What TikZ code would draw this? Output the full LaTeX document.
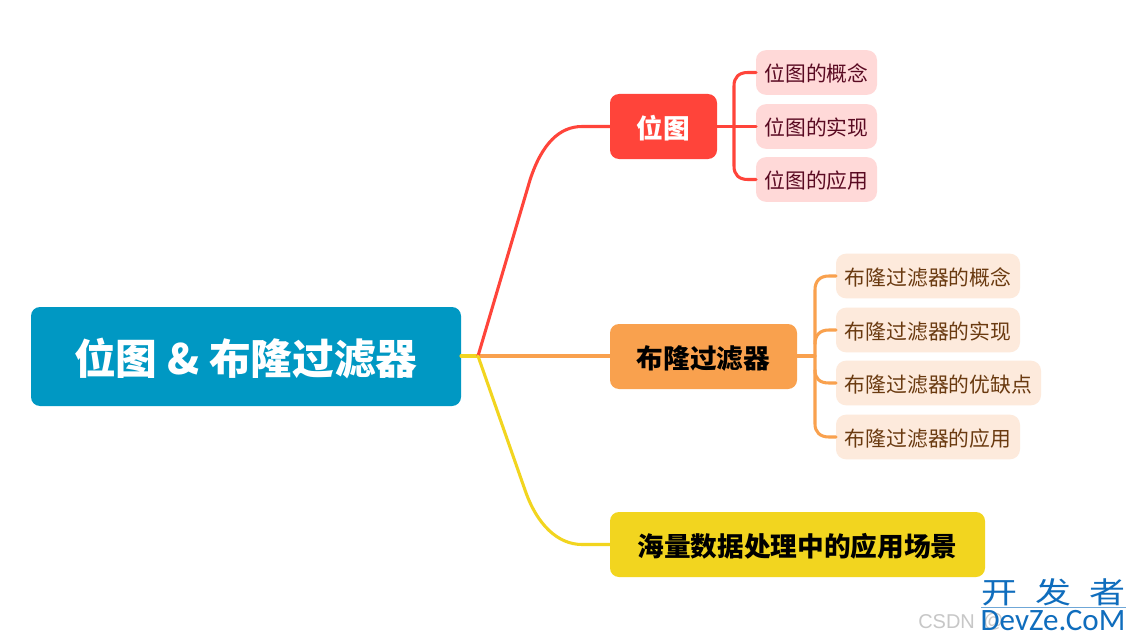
\documentclass[tikz,border=0pt]{standalone}
\usepackage{fontspec}
\setmainfont{Noto Sans CJK SC}
\newfontfamily\latinwm{Carlito}
\newfontfamily\latingr{Liberation Sans}
\definecolor{rootc}{HTML}{0098C3}
\definecolor{redc}{HTML}{FF443A}
\definecolor{orangec}{HTML}{F9A14E}
\definecolor{yellowc}{HTML}{F2D51F}
\definecolor{redleaf}{HTML}{FFD9D8}
\definecolor{orangeleaf}{HTML}{FDEADC}
\definecolor{redtext}{HTML}{5A0A22}
\definecolor{orangetext}{HTML}{6A3A10}
\definecolor{wmblue}{HTML}{0F6DBD}
\tikzset{
  x=0.75pt,y=-0.75pt,
  box/.style={rectangle,rounded corners=6.75pt,inner sep=0pt,outer sep=0pt,anchor=center},
  rootbox/.style={box,fill=rootc,text=white,font=\fontsize{31.3pt}{34pt}\selectfont\bfseries,minimum width=322.5pt,minimum height=74.25pt,text height=27pt,text depth=0pt},
  branch/.style={box,font=\fontsize{20pt}{24pt}\selectfont\bfseries,minimum height=48.75pt,text height=18.2pt,text depth=0pt},
  leafbox/.style={box,rounded corners=7.5pt,font=\fontsize{15.6pt}{18pt}\selectfont,minimum height=33.5pt,text height=14pt,text depth=0pt},
  redleafbox/.style={leafbox,fill=redleaf,text=redtext,minimum width=90.75pt},
  orangeleafbox/.style={leafbox,fill=orangeleaf,text=orangetext,minimum width=138pt},
  link/.style={line width=2.3pt,line cap=round,line join=round},
  labeltext/.style={inner sep=0pt,anchor=center},
}
\begin{document}
\begin{tikzpicture}
\useasboundingbox (0,0) rectangle (1136,642);
\fill[white] (0,0) rectangle (1136,642);
% nodes
\node[rootbox] (root) at (246,356.5) {位图 \& 布隆过滤器};
\node[branch,fill=redc,text=white,minimum width=80.25pt] (bm) at (663.5,126.5) {位图};
\node[branch,fill=orangec,text=black,minimum width=140.25pt] (bf) at (703.5,356.5) {布隆过滤器};
\node[branch,fill=yellowc,text=black,minimum width=281.25pt] (app) at (797.5,544.5) {海量数据处理中的应用场景};
\node[redleafbox] (r1) at (816.5,72.5) {位图的概念};
\node[redleafbox] (r2) at (816.5,126.5) {位图的实现};
\node[redleafbox] (r3) at (816.5,179.5) {位图的应用};
\node[orangeleafbox] (o1) at (928,276) {布隆过滤器的概念};
\node[orangeleafbox] (o2) at (928,330) {布隆过滤器的实现};
\node[orangeleafbox,minimum width=153.75pt] (o3) at (938.5,383) {布隆过滤器的优缺点};
\node[orangeleafbox] (o4) at (928,437) {布隆过滤器的应用};
% junction coordinates
\coordinate (hub) at (478,356);
\coordinate (ot) at (815,356);
% root connectors
\draw[link,yellowc] (root.east|-hub) -- (hub);
\draw[link,orangec] (hub) -- (bf.west|-hub);
\draw[link,redc] (hub) -- (530,180) .. controls (542,143) and (560,126.5) .. (582,126.5) -- (bm.west);
\draw[link,yellowc] (hub) -- (525,490) .. controls (537,525) and (558,544.5) .. (582,544.5) -- (app.west);
% red bracket
\draw[link,redc] (bm.east) -- (r2.west);
\draw[link,redc] (r1.west) -- (748,72.5) .. controls (739,72.5) and (734,77) .. (734,86) -- (734,166) .. controls (734,175) and (739,179.5) .. (748,179.5) -- (r3.west);
% orange bracket
\draw[link,orangec] (bf.east|-ot) -- (ot);
\draw[link,orangec] (o1.west) -- (829,276) .. controls (820,276) and (815,281) .. (815,290) -- (815,424) .. controls (815,432) and (820,437) .. (829,437) -- (o4.west);
\draw[link,orangec] (o2.west) -- (829,330) .. controls (820,330) and (815,335) .. (815,344);
\draw[link,orangec] (o3.west) -- (829,383) .. controls (820,383) and (815,379) .. (815,370);
% watermark
\node[labeltext,font=\latingr\fontsize{15pt}{18pt}\selectfont,text=black!22,anchor=west] (csdn) at (918,622) {CSDN};
\node[labeltext,font=\latingr\fontsize{15pt}{18pt}\selectfont,text=black!22,anchor=west] (csdnat) at (983,622) {@};
\node[labeltext,font=\fontsize{27pt}{30pt}\selectfont,text=wmblue] (wm) at (1053.5,592) {\scalebox{1}[0.82]{开\hspace{0.5em}发\hspace{0.5em}者}};
\coordinate (wl) at (981,607.5);
\coordinate (wr) at (1126,607.5);
\draw[wmblue!60,line width=0.6pt] (wl) -- (wr);
\node[labeltext,font=\latinwm\fontsize{23.3pt}{28pt}\selectfont,text=wmblue] (wn) at (1053,621) {DevZe.CoM};
\end{tikzpicture}
\end{document}
